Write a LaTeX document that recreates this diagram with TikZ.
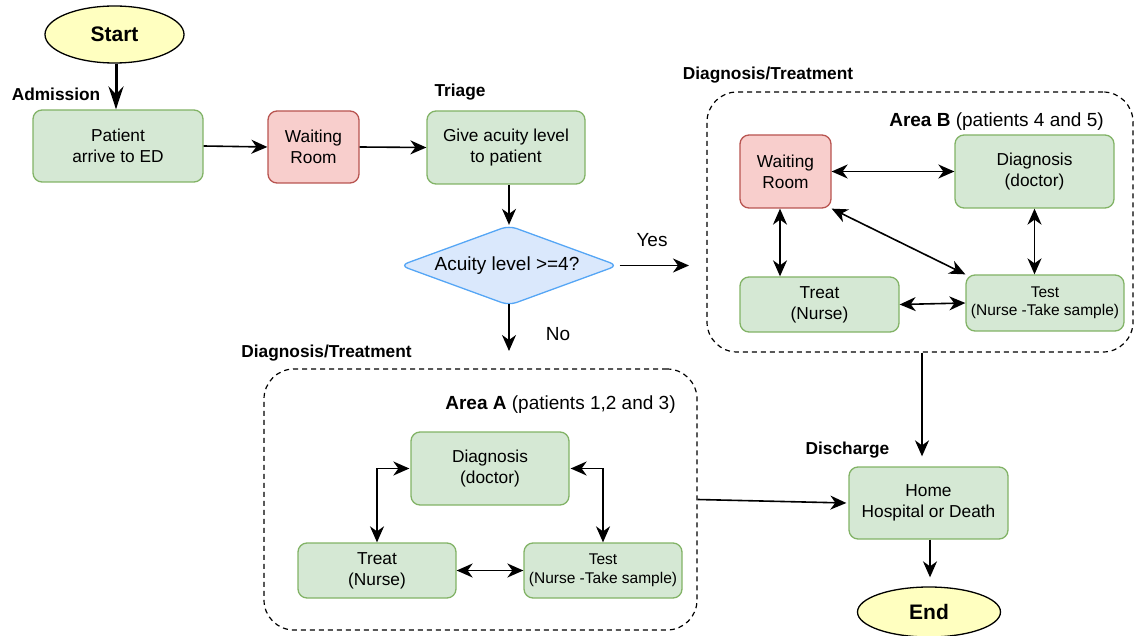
\documentclass[tikz,border=0pt]{standalone}
\usepackage{fontspec}
\setmainfont{Liberation Sans}
\usetikzlibrary{arrows.meta,shapes.geometric}
\definecolor{gfill}{HTML}{D5E8D4}
\definecolor{gline}{HTML}{82B366}
\definecolor{rfill}{HTML}{F8CECC}
\definecolor{rline}{HTML}{B85450}
\definecolor{bfill}{HTML}{DAE8FC}
\definecolor{bline}{HTML}{55A6F5}
\definecolor{yfill}{HTML}{FFFFC0}
\tikzset{
  base/.style={font=\fontsize{17.3}{21}\selectfont, align=center, inner sep=0pt},
  big/.style={font=\fontsize{19}{22}\selectfont},
  greenbox/.style={base, rectangle, rounded corners=9pt, draw=gline, fill=gfill, line width=1.3pt},
  redbox/.style={base, rectangle, rounded corners=9pt, draw=rline, fill=rfill, line width=1.3pt},
  smalltxt/.style={font=\fontsize{15.5}{18.5}\selectfont},
  terminal/.style={base, ellipse, draw=black, fill=yfill, line width=1.3pt, font=\fontsize{21}{24}\selectfont\bfseries},
  area/.style={rectangle, rounded corners=30pt, draw=black, line width=1.2pt, dash pattern=on 5pt off 4pt},
  heading/.style={base, font=\fontsize{17.3}{21}\selectfont\bfseries},
  lbl/.style={base, big},
  tip/.tip={Stealth[length=16pt,width=14pt,inset=5pt]},
  arr/.style={-tip, line width=1.6pt},
  darr/.style={tip-tip, line width=1.6pt},
  thickarr/.style={-{Stealth[length=23pt,width=15pt,inset=8pt]}, line width=3pt},
}
\begin{document}
\begin{tikzpicture}[x=1pt,y=-1pt]
\useasboundingbox (0,0) rectangle (1135,636);

% admission and triage
\node[terminal, minimum width=139pt, minimum height=57pt] (start) at (114.5,34.5) {Start};
\node[heading] (admission) at (56,94) {Admission};
\node[greenbox, minimum width=170pt, minimum height=72pt] (patient) at (118,146) {Patient\\arrive to ED};
\node[redbox, minimum width=91pt, minimum height=72pt] (wait) at (313.5,147) {Waiting\\Room};
\node[heading] (triage) at (460,92) {Triage};
\node[greenbox, minimum width=158pt, minimum height=73pt] (acuity) at (506,147.5) {Give acuity level\\to patient};
\node[base, diamond, aspect=2.73, minimum width=218pt, minimum height=80pt, draw=bline, fill=bfill, line width=1.3pt, rounded corners=8pt] (decide) at (509,265.5) {};
\node[base, big] (decidetext) at (507,265.5) {Acuity level >=4?};
\coordinate (yesend) at (689,265.5);
\coordinate (noend) at (509,351);
\node[lbl] (yes) at (652,240) {Yes};
\node[lbl] (no) at (558,334) {No};

\draw[thickarr] ([xshift=1.5pt]start.south) -- ([xshift=1.5pt]start.south |- patient.north);
\draw[arr] (patient.east) -- (wait.west);
\draw[arr] (wait.east) -- (acuity.west);
\draw[arr] (decide.north |- acuity.south) -- (decide.north);
\draw[arr] (decide.east) ++(1pt,0) -- (yesend);
\draw[arr] (decide.south) ++(0,2pt) -- (noend);

% area B
\node[heading] (dtb) at (768,75) {Diagnosis/Treatment};
\node[area, minimum width=426pt, minimum height=260pt] (areab) at (920,222) {};
\node[base, big] (areablabel) at (996.5,122) {\textbf{Area B} (patients 4 and 5)};
\node[redbox, minimum width=91pt, minimum height=73pt] (wrb) at (785.5,171.5) {Waiting\\Room};
\node[greenbox, minimum width=159pt, minimum height=73pt] (diagb) at (1034.5,171.5) {Diagnosis\\(doctor)};
\node[greenbox, minimum width=159pt, minimum height=55pt] (treatb) at (819.5,304.5) {Treat\\(Nurse)};
\node[greenbox, smalltxt, minimum width=158pt, minimum height=56pt] (testb) at (1045,303) {Test\\(Nurse -Take sample)};
\draw[darr] (wrb.east) -- (diagb.west);
\draw[darr] ([xshift=-5.5pt]wrb.south) -- ([xshift=-5.5pt]wrb.south |- treatb.north);
\draw[darr] (wrb.south east) -- (testb.north west);
\draw[darr] (diagb.south) -- (diagb.south |- testb.north);
\draw[darr] (treatb.east) -- (testb.west);

% area A
\node[heading] (dta) at (326.5,353) {Diagnosis/Treatment};
\node[area, minimum width=433pt, minimum height=261pt] (areaa) at (480.5,499.5) {};
\node[base, big] (areaalabel) at (560.5,405) {\textbf{Area A} (patients 1,2 and 3)};
\node[greenbox, minimum width=158pt, minimum height=73pt] (diaga) at (490,468.5) {Diagnosis\\(doctor)};
\node[greenbox, minimum width=158pt, minimum height=55pt] (treata) at (377,570.5) {Treat\\(Nurse)};
\node[greenbox, smalltxt, minimum width=158pt, minimum height=55pt] (testa) at (603,570.5) {Test\\(Nurse -Take sample)};
\draw[darr] ([xshift=-1pt]diaga.west) -| (treata.north);
\draw[darr] ([xshift=1pt]diaga.east) -| (testa.north);
\draw[darr] (treata.east) -- (testa.west);

% discharge
\node[heading] (discharge) at (847.5,450) {Discharge};
\node[greenbox, minimum width=159pt, minimum height=72pt] (home) at (928.5,503) {Home\\Hospital or Death};
\node[terminal, minimum width=143pt, minimum height=50pt] (finish) at (929,612) {End};
\draw[arr, shorten >=10pt] ([xshift=2pt]areab.south) -- ([xshift=2pt]areab.south |- home.north);
\draw[arr] (areaa.east) -- ([xshift=-2pt]home.west);
\draw[arr, shorten >=9pt] ([xshift=1.5pt]home.south) -- ([xshift=1.5pt]home.south |- finish.north);
\end{tikzpicture}
\end{document}
